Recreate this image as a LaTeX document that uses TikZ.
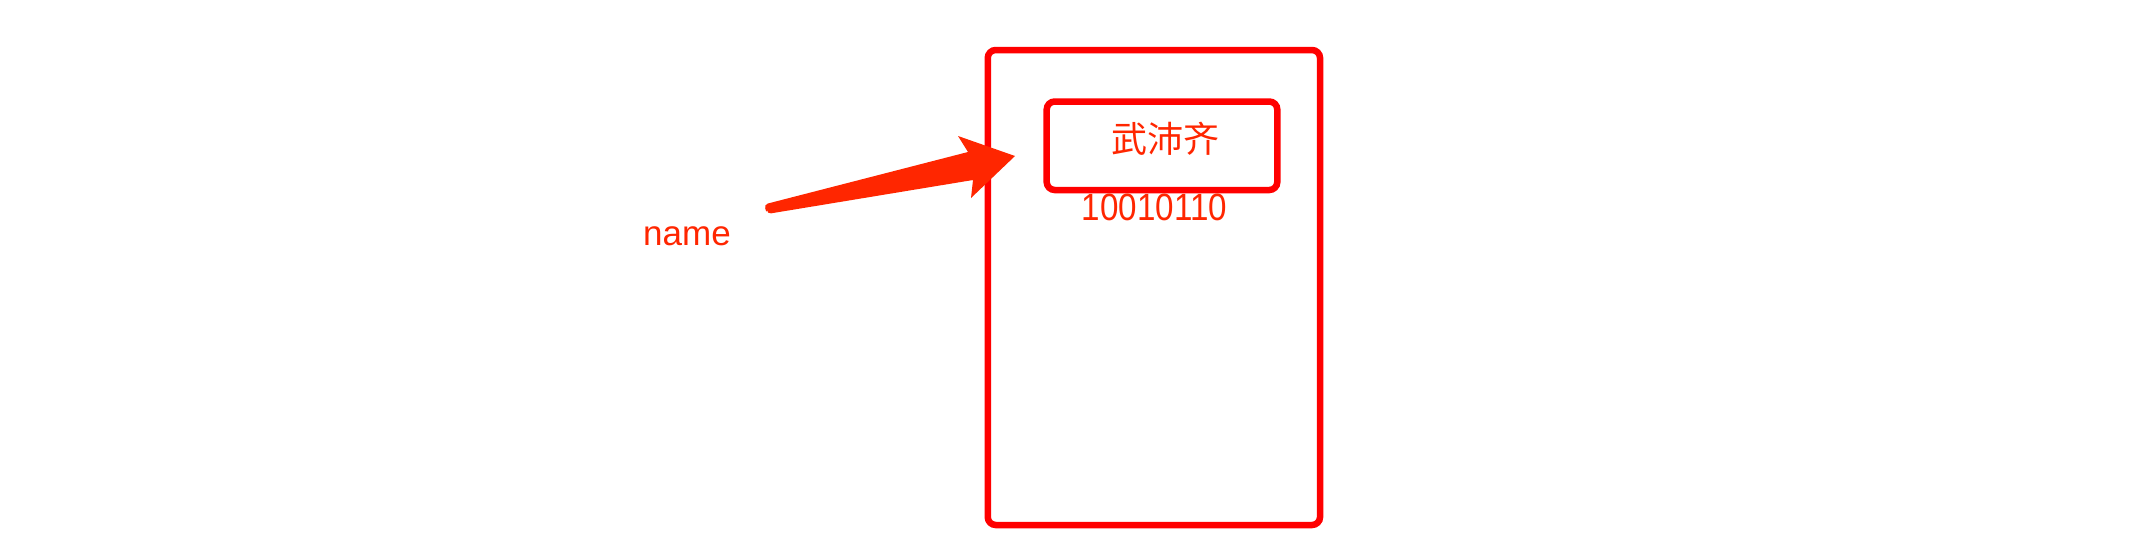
\documentclass[tikz,border=0pt]{standalone}
\usepackage{fontspec}
\setmainfont{Liberation Sans}
\newfontfamily\cjk{Noto Sans CJK SC}
\definecolor{boxred}{RGB}{255,0,0}
\definecolor{arrowred}{RGB}{255,38,0}
\begin{document}
\begin{tikzpicture}[x=1pt,y=-1pt,
  box/.style={draw=boxred,line width=6.5pt,rounded corners=8pt,inner sep=0pt,fill=none},
  lbl/.style={text=arrowred,inner sep=0pt}]
\useasboundingbox (0,0) rectangle (2156,550);
\fill[white] (0,0) rectangle (2156,550);
\node[box,minimum width=332.3pt,minimum height=475pt] (outer) at (1153.9,287.5) {};
\node[box,minimum width=230.6pt,minimum height=88.5pt] (inner) at (1162,145.75) {};
\node[lbl,font=\cjk\fontsize{36}{40}\selectfont] (nm) at (1165,139) {武沛齐};
\node[lbl,font=\fontsize{38}{40}\selectfont,anchor=base] (bits) at (1154.5,220.5) {\scalebox{0.873}[1]{10010110}};
\node[lbl,font=\fontsize{35}{38}\selectfont,anchor=base west] (name) at (643,245) {name};
\coordinate (tailU) at (764,204.5);
\coordinate (tailL) at (767,214);
\coordinate (tip) at (1015,156);
\fill[arrowred,rounded corners=4pt] (tailL) -- (tailU) [sharp corners] -- (968,152) -- (958,136) -- (tip) -- (971,198) -- (973,180) [rounded corners=4pt] -- (tailL) -- cycle;
\end{tikzpicture}
\end{document}
